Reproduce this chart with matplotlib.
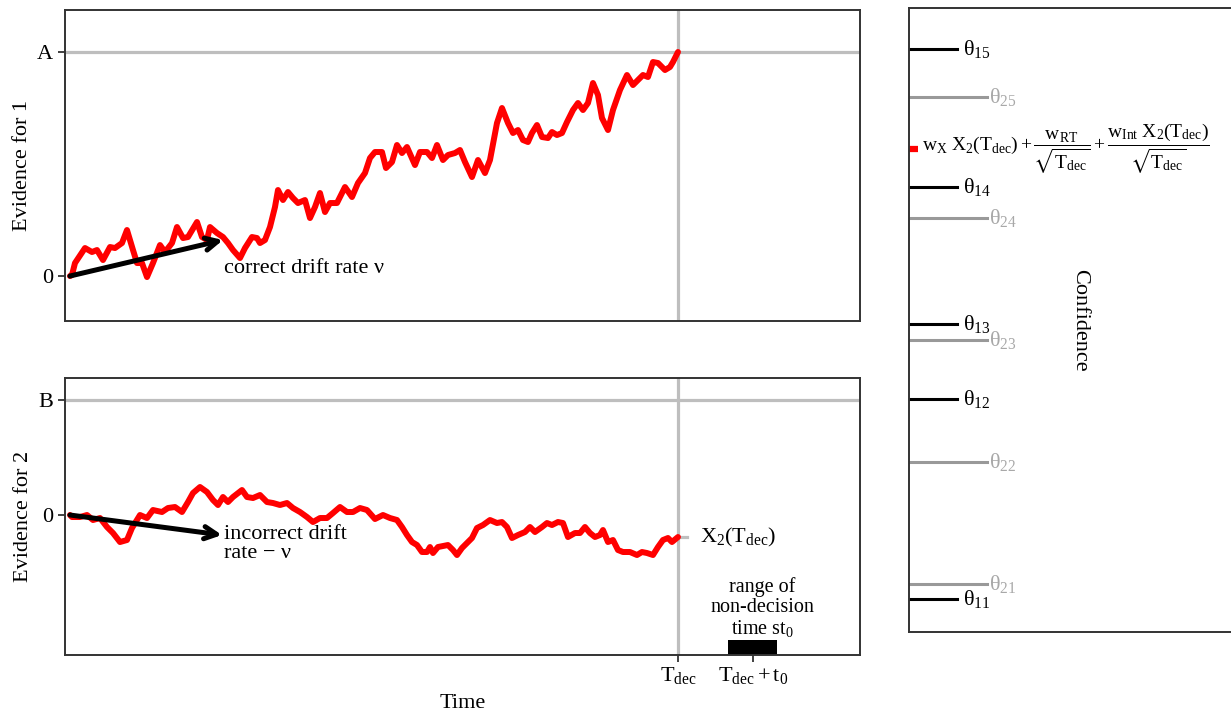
import matplotlib
matplotlib.use('Agg')
import matplotlib.pyplot as plt

plt.rcParams['font.family'] = ['Liberation Serif', 'DejaVu Serif']
plt.rcParams['mathtext.fontset'] = 'custom'
plt.rcParams['mathtext.rm'] = 'Liberation Serif'
plt.rcParams['mathtext.it'] = 'Liberation Serif:italic'
plt.rcParams['mathtext.bf'] = 'Liberation Serif:bold'
plt.rcParams['mathtext.default'] = 'regular'
plt.rcParams['mathtext.fallback'] = 'stix'

# accumulator 1 (correct response), hits the bound A at T_dec
t1 = [0.00, 0.02, 0.05, 0.15, 0.22, 0.27, 0.33, 0.40, 0.45, 0.52, 0.57, 0.63, 0.67, 0.72,
      0.77, 0.83, 0.90, 0.95, 1.02, 1.07, 1.13, 1.18, 1.27, 1.32, 1.37, 1.40, 1.47, 1.53,
      1.58, 1.63, 1.70, 1.75, 1.82, 1.87, 1.90, 1.95, 2.00, 2.05, 2.08, 2.13, 2.18, 2.23,
      2.28, 2.35, 2.40, 2.45, 2.50, 2.55, 2.60, 2.67, 2.75, 2.82, 2.88, 2.95, 3.00, 3.05,
      3.12, 3.16, 3.22, 3.27, 3.32, 3.37, 3.45, 3.50, 3.57, 3.62, 3.67, 3.73, 3.78, 3.85,
      3.90, 3.95, 4.02, 4.08, 4.15, 4.20, 4.27, 4.32, 4.38, 4.43, 4.48, 4.53, 4.58, 4.62,
      4.67, 4.72, 4.78, 4.82, 4.87, 4.92, 4.97, 5.03, 5.08, 5.13, 5.18, 5.23, 5.28, 5.32,
      5.38, 5.43, 5.50, 5.57, 5.63, 5.68, 5.73, 5.78, 5.83, 5.88, 5.95, 6.00, 6.03, 6.08]
x1 = [0.00, 0.01, 0.13, 0.28, 0.24, 0.26, 0.16, 0.29, 0.28, 0.33, 0.46, 0.26, 0.13, 0.13,
      -0.01, 0.13, 0.31, 0.24, 0.33, 0.49, 0.38, 0.39, 0.54, 0.39, 0.36, 0.49, 0.43, 0.39,
      0.33, 0.26, 0.18, 0.28, 0.39, 0.38, 0.33, 0.36, 0.49, 0.69, 0.86, 0.76, 0.84, 0.78,
      0.73, 0.76, 0.58, 0.69, 0.83, 0.64, 0.73, 0.73, 0.89, 0.79, 0.93, 1.03, 1.18, 1.24,
      1.24, 1.08, 1.14, 1.31, 1.23, 1.29, 1.11, 1.24, 1.24, 1.18, 1.31, 1.16, 1.21, 1.23,
      1.26, 1.14, 0.99, 1.16, 1.03, 1.16, 1.53, 1.68, 1.53, 1.43, 1.46, 1.36, 1.34, 1.43,
      1.51, 1.39, 1.38, 1.44, 1.41, 1.43, 1.54, 1.66, 1.73, 1.66, 1.73, 1.93, 1.81, 1.58,
      1.46, 1.66, 1.86, 2.01, 1.91, 1.96, 2.01, 1.99, 2.14, 2.13, 2.06, 2.09, 2.14, 2.24]

# accumulator 2 (incorrect response)
t2 = [0.00, 0.02, 0.10, 0.17, 0.23, 0.30, 0.37, 0.43, 0.50, 0.57, 0.62, 0.70, 0.77, 0.83,
      0.92, 0.98, 1.05, 1.12, 1.18, 1.23, 1.30, 1.37, 1.43, 1.48, 1.53, 1.58, 1.63, 1.72,
      1.77, 1.83, 1.90, 1.97, 2.03, 2.10, 2.17, 2.23, 2.30, 2.37, 2.43, 2.50, 2.57, 2.63,
      2.70, 2.77, 2.83, 2.90, 2.97, 3.05, 3.13, 3.20, 3.27, 3.32, 3.37, 3.42, 3.47, 3.52,
      3.57, 3.60, 3.63, 3.68, 3.78, 3.83, 3.87, 3.92, 3.97, 4.02, 4.07, 4.13, 4.20, 4.27,
      4.32, 4.37, 4.42, 4.48, 4.55, 4.60, 4.65, 4.72, 4.77, 4.82, 4.88, 4.93, 4.98, 5.05,
      5.10, 5.15, 5.20, 5.25, 5.30, 5.33, 5.38, 5.43, 5.48, 5.53, 5.60, 5.67, 5.72, 5.77,
      5.83, 5.88, 5.93, 5.98, 6.02, 6.08]
x2 = [0.00, -0.02, -0.02, 0.00, -0.05, -0.03, -0.12, -0.18, -0.27, -0.25, -0.13, 0.00, -0.03,
      0.05, 0.03, 0.07, 0.08, 0.03, 0.13, 0.22, 0.28, 0.23, 0.15, 0.10, 0.18, 0.13, 0.18,
      0.25, 0.18, 0.17, 0.20, 0.13, 0.12, 0.10, 0.12, 0.07, 0.03, -0.02, -0.07, -0.03, -0.03,
      0.02, 0.08, 0.03, 0.03, 0.07, 0.05, -0.04, 0.00, -0.03, -0.05, -0.12, -0.20, -0.27,
      -0.30, -0.37, -0.37, -0.32, -0.38, -0.32, -0.30, -0.35, -0.40, -0.33, -0.28, -0.23,
      -0.13, -0.10, -0.05, -0.08, -0.07, -0.12, -0.23, -0.20, -0.17, -0.12, -0.17, -0.12,
      -0.08, -0.10, -0.07, -0.08, -0.22, -0.18, -0.18, -0.12, -0.18, -0.22, -0.20, -0.15,
      -0.27, -0.25, -0.35, -0.37, -0.37, -0.40, -0.37, -0.38, -0.40, -0.32, -0.25, -0.23,
      -0.27, -0.22]

A = 2.24
B = 1.15
T_dec = 6.08
t0 = 0.75
st0_range = [6.58, 7.07]
X2_dec = x2[-1]

# drift arrows (end points from the origin)
drift_correct = (1.53, 0.36)
drift_incorrect = (1.52, -0.20)

# confidence thresholds theta_1k (black) and theta_2k (grey), k = 1..5
theta1 = [0.33, 2.33, 3.08, 4.45, 5.83]
theta2 = [0.48, 1.70, 2.92, 4.14, 5.35]
conf_value = 4.83

grey = '#BEBEBE'
frame = '#333333'
fs = 16

fig = plt.figure(figsize=(12.31, 7.15), dpi=100)
ax1 = fig.add_axes([0.0528, 0.5510, 0.6458, 0.4350])
ax2 = fig.add_axes([0.0528, 0.0839, 0.6458, 0.3874])
ax3 = fig.add_axes([0.7384, 0.1161, 0.2689, 0.8727])

for ax in (ax1, ax2, ax3):
    for s in ax.spines.values():
        s.set_color(frame)
        s.set_linewidth(1.4)
    ax.tick_params(direction='out', length=5, width=1.3, color=frame,
                   labelsize=fs, labelcolor='black')

# --- evidence for 1 ---
ax1.axhline(A, color=grey, lw=2.3, zorder=1)
ax1.axvline(T_dec, color=grey, lw=2.3, zorder=1)
ax1.plot(t1, x1, color='red', lw=4.3, solid_joinstyle='round', solid_capstyle='round', zorder=2)
ax1.annotate('', xy=drift_correct, xytext=(0, 0),
             arrowprops=dict(arrowstyle='->', lw=3.6, color='black', mutation_scale=22,
                             shrinkA=0, shrinkB=0), zorder=3)
ax1.text(1.54, 0.08, 'correct drift rate ν', fontsize=fs, ha='left', va='center')
ax1.set_xlim(-0.05, 7.90)
ax1.set_ylim(-0.45, 2.66)
ax1.set_xticks([])
ax1.set_yticks([0, A])
ax1.set_yticklabels(['0', 'A'])
ax1.set_ylabel('Evidence for 1', fontsize=fs)

# --- evidence for 2 ---
ax2.axhline(B, color=grey, lw=2.3, zorder=1)
ax2.axvline(T_dec, color=grey, lw=2.3, zorder=1)
ax2.plot([T_dec, T_dec + 0.09], [X2_dec, X2_dec], color=grey, lw=2.3, zorder=1)
ax2.plot(t2, x2, color='red', lw=4.3, solid_joinstyle='round', solid_capstyle='round', zorder=2)
ax2.annotate('', xy=drift_incorrect, xytext=(0, 0),
             arrowprops=dict(arrowstyle='->', lw=3.6, color='black', mutation_scale=22,
                             shrinkA=0, shrinkB=0), zorder=3)
ax2.text(1.54, -0.29, 'incorrect drift\nrate − ν', fontsize=fs, ha='left', va='center',
         linespacing=0.98)
ax2.text(6.30, X2_dec, r'$X_2(T_{dec})$', fontsize=fs, ha='left', va='center')
ax2.text(6.92, -0.93, 'range of\nnon-decision\ntime st$_0$', fontsize=14.5, ha='center',
         va='center', linespacing=1.05)
ax2.fill_between(st0_range, -1.25, -1.40, color='black', lw=0)
ax2.set_xlim(-0.05, 7.90)
ax2.set_ylim(-1.40, 1.37)
ax2.set_xticks([T_dec, T_dec + t0])
ax2.set_xticklabels([r'$T_{dec}$', r'$T_{dec} + t_0$'])
ax2.tick_params(axis='x', pad=2)
ax2.set_yticks([0, B])
ax2.set_yticklabels(['0', 'B'])
ax2.set_ylabel('Evidence for 2', fontsize=fs)
ax2.set_xlabel('Time', fontsize=fs, labelpad=6)

# --- confidence scale ---
ax3.set_xlim(0, 3.31)
ax3.set_ylim(0, 6.24)
ax3.set_xticks([])
ax3.set_yticks([])
ax3.spines['right'].set_visible(False)
for k, y in enumerate(theta2):
    ax3.plot([0, 0.78], [y, y], color='#999999', lw=2.2)
    ax3.text(0.80, y, r'$θ_{2%d}$' % (k + 1), fontsize=fs, color='#A8A8A8',
             ha='left', va='center')
for k, y in enumerate(theta1):
    ax3.plot([0, 0.48], [y, y], color='black', lw=2.2)
    ax3.text(0.54, y, r'$θ_{1%d}$' % (k + 1), fontsize=fs, color='black',
             ha='left', va='center')
ax3.plot([0, 0.09], [conf_value, conf_value], color='red', lw=4.5, solid_capstyle='butt')
ax3.text(0.13, conf_value,
         r'$w_X\ X_2(T_{dec}) + \dfrac{w_{RT}}{\sqrt{T_{dec}}} + '
         r'\dfrac{w_{Int}\ X_2(T_{dec})}{\sqrt{T_{dec}}}$',
         fontsize=14, ha='left', va='center')
ax3.text(0.517, 0.5, 'Confidence', fontsize=fs, rotation=270, ha='center', va='center',
         transform=ax3.transAxes)

fig.savefig('out.png', dpi=100)
